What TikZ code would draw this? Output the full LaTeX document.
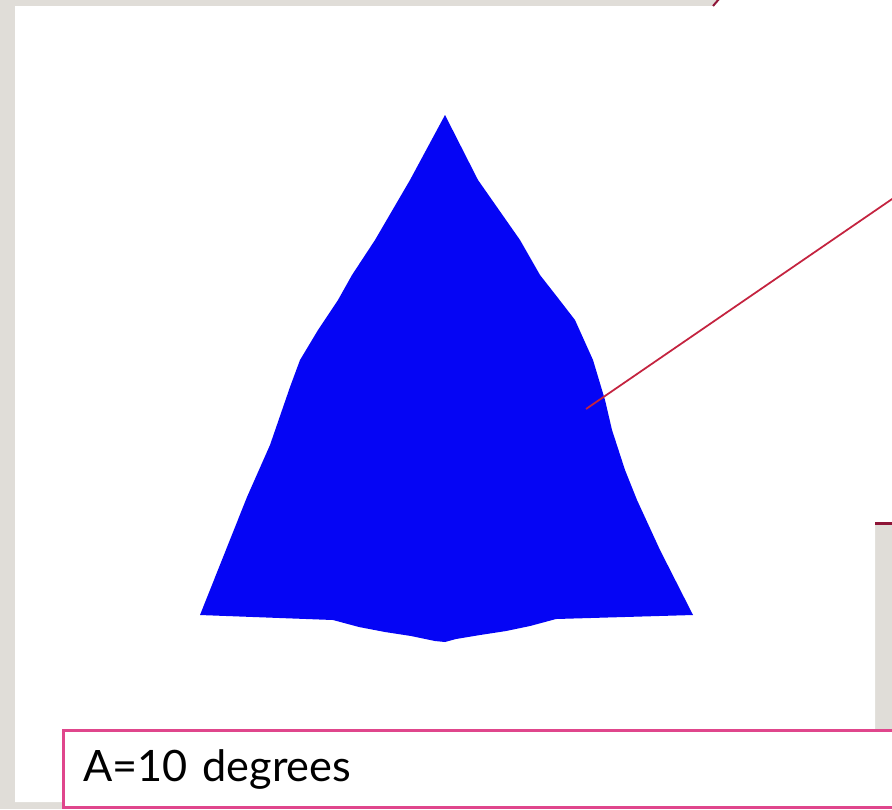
\documentclass[tikz,border=0pt]{standalone}
\usepackage{fontspec}
\setmainfont{Lato}
\usepackage{xcolor}
\definecolor{slidegray}{HTML}{E0DDD8}
\definecolor{slidered}{HTML}{8E1537}
\definecolor{pointerred}{HTML}{C4233F}
\definecolor{boxpink}{HTML}{E0468C}
\definecolor{shapeblue}{HTML}{0505F5}
\usetikzlibrary{positioning}

\begin{document}
\begin{tikzpicture}[
  x=0.01cm, y=-0.01cm,
  labelbox/.style={
    rectangle, draw=boxpink, line width=0.03cm, fill=white,
    minimum height=0.77cm, text width=8.3cm, inner xsep=0.2cm,
    align=left, font=\fontsize{12.3}{14}\selectfont
  },
  pointer/.style={draw=pointerred, line width=0.5pt}
]
\useasboundingbox (0,0) rectangle (892,809);

% slide background and white panel
\fill[slidegray] (0,0) rectangle (892,809);
\fill[white] (15,6) -- (713,6) -- (718,0) -- (892,0) -- (892,522)
  -- (875,522) -- (875,802) -- (15,802) -- cycle;
\draw[slidered, line width=0.02cm] (713,6) -- (719,-1);
\draw[slidered, line width=0.03cm] (875,523.5) -- (893,523.5);

% blue shape
\fill[shapeblue] (445,115) -- (478,180) -- (520,240) -- (540,275)
  -- (558,298) -- (575,320) -- (593,360) -- (605,400) -- (612,430)
  -- (625,470) -- (637,500) -- (660,550) -- (693,615)
  -- (556,619) -- (530,626) -- (506,631) -- (480,635) -- (456,639)
  -- (445,642) -- (435,641) -- (411,636) -- (385,632) -- (359,627)
  -- (333,620) -- (200,615)
  -- (247,497) -- (270,445) -- (290,387) -- (300,360) -- (318,330)
  -- (338,300) -- (352,275) -- (375,240) -- (410,180) -- cycle;

% pointer
\coordinate (tip) at (586,409);
\coordinate (far) at (895,197);
\draw[pointer] (tip) -- (far);

% caption
\node[labelbox, anchor=north west] (angle) at (62,729) {A=10 degrees};

\end{tikzpicture}
\end{document}
